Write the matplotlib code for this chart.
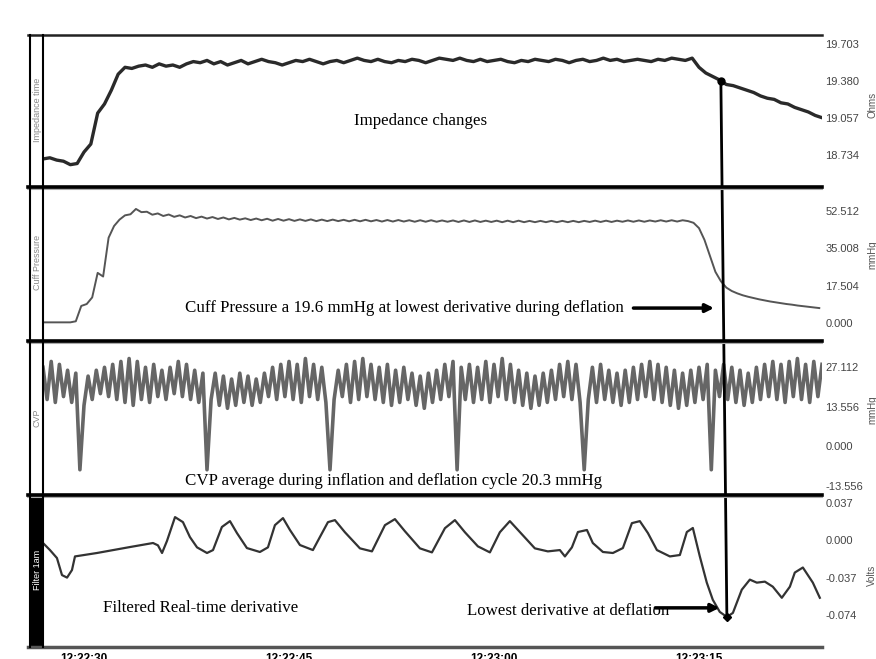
import numpy as np
import matplotlib.pyplot as plt
from matplotlib.lines import Line2D
from matplotlib.patches import Rectangle, ConnectionPatch

# time in seconds from 12:22:27
tick_t = [3, 18, 33, 48]
tick_labels = ['12:22:30', '12:22:45', '12:23:00', '12:23:15']

# impedance (Ohms), 0.5 s samples
imp = [18.70, 18.71, 18.69, 18.68, 18.65, 18.66, 18.76, 18.83, 19.10, 19.18,
       19.30, 19.44, 19.50, 19.49, 19.51, 19.52, 19.50, 19.53, 19.51, 19.52,
       19.50, 19.53, 19.55, 19.54, 19.56, 19.53, 19.55, 19.52, 19.54, 19.56,
       19.53, 19.55, 19.57, 19.55, 19.54, 19.52, 19.54, 19.56, 19.55, 19.57,
       19.55, 19.53, 19.55, 19.56, 19.54, 19.56, 19.58, 19.56, 19.55, 19.57,
       19.55, 19.54, 19.56, 19.55, 19.57, 19.56, 19.54, 19.56, 19.58, 19.57,
       19.56, 19.58, 19.56, 19.55, 19.57, 19.55, 19.56, 19.57, 19.55, 19.54,
       19.56, 19.55, 19.57, 19.56, 19.55, 19.57, 19.56, 19.54, 19.56, 19.57,
       19.55, 19.56, 19.58, 19.56, 19.57, 19.55, 19.56, 19.57, 19.56, 19.55,
       19.57, 19.56, 19.58, 19.57, 19.56, 19.58, 19.50, 19.45, 19.42, 19.39,
       19.35, 19.34, 19.32, 19.30, 19.28, 19.25, 19.23, 19.22, 19.19, 19.18,
       19.15, 19.13, 19.11, 19.08, 19.06]
t_imp = np.arange(len(imp)) * 0.5

# cuff pressure (mmHg), 0.4 s samples
cuff = [0.3, 0.3, 0.3, 0.3, 0.3, 0.3, 0.8, 8.0, 8.9, 12.0,
        23.5, 21.8, 40.0, 45.5, 48.5, 50.5, 51.0, 53.5, 52.0, 52.2,
        50.8, 51.4, 50.2, 50.9, 49.8, 50.5, 49.5, 50.2, 49.2, 49.9,
        49.0, 49.7, 48.8, 49.5, 48.6, 49.3, 48.5, 49.1, 48.3, 49.0,
        48.2, 48.9, 48.0, 48.8, 48.0, 48.7, 47.9, 48.6, 47.9, 48.6,
        47.8, 48.5, 47.8, 48.5, 47.8, 48.4, 47.7, 48.4, 47.7, 48.4,
        47.7, 48.3, 47.6, 48.3, 47.6, 48.3, 47.6, 48.2, 47.5, 48.2,
        47.5, 48.2, 47.5, 48.1, 47.5, 48.1, 47.4, 48.1, 47.4, 48.1,
        47.4, 48.0, 47.4, 48.0, 47.3, 48.0, 47.3, 48.0, 47.3, 47.9,
        47.3, 47.9, 47.3, 47.9, 47.3, 47.9, 47.3, 47.9, 47.3, 47.9,
        47.4, 48.0, 47.4, 48.0, 47.4, 48.0, 47.5, 48.1, 47.5, 48.1,
        47.5, 48.1, 47.6, 48.2, 47.6, 48.2, 47.6, 48.2, 47.8, 47.0,
        44.5, 39.0, 31.5, 24.0, 19.6, 16.6, 15.0, 13.9, 13.0, 12.3,
        11.7, 11.1, 10.6, 10.1, 9.7, 9.3, 8.9, 8.6, 8.2, 7.9,
        7.6, 7.3, 7.0]
t_cuff = np.arange(len(cuff)) * 0.4

# central venous pressure (mmHg), 0.3 s samples
cvp = [27, 16, 29, 15, 28, 17, 26, 15, 25, -8,
       14, 24, 16, 26, 18, 27, 17, 28, 16, 29,
       15, 30, 14, 29, 16, 27, 15, 28, 17, 26,
       16, 27, 18, 29, 17, 28, 16, 26, 15, 25,
       -8, 16, 25, 14, 24, 13, 23, 14, 25, 15,
       24, 14, 23, 15, 25, 17, 27, 16, 28, 17,
       29, 16, 28, 15, 30, 17, 28, 16, 27, 15,
       -8, 16, 26, 17, 28, 15, 29, 16, 30, 17,
       28, 16, 27, 15, 28, 14, 26, 15, 27, 16,
       25, 14, 24, 13, 25, 15, 26, 16, 28, 17,
       29, -8, 27, 16, 28, 15, 27, 16, 29, 15,
       28, 17, 30, 16, 28, 15, 26, 14, 25, 13,
       24, 14, 25, 15, 26, 16, 28, 17, 29, 16,
       28, 15, -8, 16, 27, 15, 28, 16, 26, 15,
       25, 14, 26, 15, 27, 16, 28, 17, 29, 16,
       28, 15, 27, 14, 26, 13, 25, 14, 26, 15,
       27, 16, 28, -8, 26, 17, 28, 16, 27, 15,
       26, 14, 25, 15, 27, 16, 28, 17, 29, 16,
       28, 15, 29, 17, 30, 16, 28, 15, 29, 17,
       28]
t_cvp = np.arange(len(cvp)) * 0.3

# filtered derivative (Volts)
t_der = [0, 0.51, 1.02, 1.39, 1.76, 2.12, 2.34, 3.95, 6.36, 8.05,
         8.41, 8.71, 9.07, 9.66, 10.24, 10.75, 11.27, 12.0, 12.44, 13.09,
         13.68, 14.19, 14.92, 15.87, 16.46, 16.97, 17.56, 18.07, 18.8, 19.75,
         20.26, 20.85, 21.36, 22.09, 23.19, 24.07, 25.02, 25.75, 26.48, 27.58,
         28.46, 29.41, 30.14, 30.87, 31.82, 32.7, 33.43, 34.16, 35.04, 35.99,
         36.94, 37.82, 38.19, 38.7, 39.14, 39.8, 40.23, 40.97, 41.7, 42.43,
         43.09, 43.67, 44.26, 44.92, 45.87, 46.6, 47.11, 47.55, 48.06, 48.57,
         49.01, 49.52, 50.04, 50.48, 51.13, 51.72, 52.23, 52.82, 53.4, 54.06,
         54.65, 55.01, 55.6, 56.33, 56.84]
der = [-0.0027, -0.0097, -0.0176, -0.0345, -0.037, -0.0295, -0.016, -0.0126, -0.0067, -0.0027,
       -0.005, -0.0126, -0.0007, 0.023, 0.018, 0.0032, -0.007, -0.0126, -0.0097, 0.0132,
       0.019, 0.0072, -0.0077, -0.0116, -0.007, 0.015, 0.022, 0.0102, -0.0047, -0.0097,
       0.0032, 0.018, 0.020, 0.008, -0.008, -0.011, 0.015, 0.021, 0.009, -0.008,
       -0.012, 0.012, 0.020, 0.008, -0.006, -0.012, 0.008, 0.019, 0.006, -0.008,
       -0.011, -0.0097, -0.016, -0.007, 0.0082, 0.0102, -0.0027, -0.0116, -0.0126, -0.0077,
       0.017, 0.019, 0.0072, -0.0097, -0.016, -0.0146, 0.0082, 0.0122, -0.016, -0.042,
       -0.059, -0.071, -0.076, -0.072, -0.049, -0.039, -0.042, -0.041, -0.046, -0.057,
       -0.046, -0.032, -0.027, -0.042, -0.057]

imp_ticks = [19.703, 19.380, 19.057, 18.734]
cuff_ticks = [52.512, 35.008, 17.504, 0.000]
cvp_ticks = [27.112, 13.556, 0.000, -13.556]
der_ticks = [0.037, 0.000, -0.037, -0.074]

t_mark = 49.6   # lowest derivative during deflation
t_low = 50.04

W, H = 876, 659
fig = plt.figure(figsize=(W / 100, H / 100), dpi=100)

rows = [(35, 187), (187, 341), (341, 495), (495, 647)]
x0, x1 = 43, 822
axs = []
for top, bot in rows:
    ax = fig.add_axes([x0 / W, 1 - bot / H, (x1 - x0) / W, (bot - top) / H])
    ax.set_facecolor('none')
    for s in ax.spines.values():
        s.set_visible(False)
    ax.set_xlim(0, 57)
    ax.set_xticks([])
    ax.yaxis.tick_right()
    ax.tick_params(axis='y', length=0, pad=2.5, labelsize=8, labelcolor='#444')
    axs.append(ax)
ax_imp, ax_cuff, ax_cvp, ax_der = axs

ylims = [(18.455, 19.782), (-8.45, 63.8), (-16.63, 35.99), (-0.1058, 0.0449)]
ticks = [imp_ticks, cuff_ticks, cvp_ticks, der_ticks]
for ax, yl, tk in zip(axs, ylims, ticks):
    ax.set_ylim(*yl)
    ax.set_yticks(tk)
    ax.set_yticklabels(['%.3f' % v for v in tk], family='Liberation Sans')

ax_imp.plot(t_imp, imp, color='#2a2a2a', lw=2.4)
ax_cuff.plot(t_cuff, cuff, color='#555555', lw=1.4)
ax_cvp.plot(t_cvp, cvp, color='#666666', lw=2.6)
ax_der.plot(t_der, der, color='#333333', lw=1.6)

ax_der.set_xticks(tick_t)
ax_der.set_xticklabels(tick_labels, family='Liberation Sans', fontweight='bold')
ax_der.tick_params(axis='x', length=0, pad=4.5, labelsize=8.5)

# marker line joining impedance and lowest derivative
imp_mark = np.interp(t_mark, t_imp, imp)
der_low = min(der)
ax_imp.plot([t_mark], [imp_mark], 'o', color='k', ms=5)
ax_der.plot([t_low], [der_low], 'D', color='k', ms=4)
con = ConnectionPatch(xyA=(t_mark, imp_mark), coordsA=ax_imp.transData,
                      xyB=(t_low, der_low), coordsB=ax_der.transData,
                      color='k', lw=2)
fig.add_artist(con)

# annotations
serif = 'Liberation Serif'
fs = 12.2
ax_imp.text(27.6, 19.03, 'Impedance changes', family=serif, fontsize=fs,
            ha='center', va='center')
ax_cuff.text(10.4, 7.0, 'Cuff Pressure a 19.6 mmHg at lowest derivative during deflation',
             family=serif, fontsize=fs, ha='left', va='center')
ax_cuff.annotate('', xy=(49.3, 7.0), xytext=(43.0, 7.0),
                 arrowprops=dict(arrowstyle='-|>', color='k', lw=2.5, mutation_scale=12))
ax_cvp.text(10.4, -11.8, 'CVP average during inflation and deflation cycle 20.3 mmHg',
            family=serif, fontsize=fs, ha='left', va='center')
ax_der.text(4.4, -0.067, 'Filtered Real-time derivative', family=serif, fontsize=fs,
            ha='left', va='center')
ax_der.text(31.0, -0.070, 'Lowest derivative at deflation', family=serif, fontsize=fs,
            ha='left', va='center')
ax_der.annotate('', xy=(49.7, -0.067), xytext=(44.6, -0.067),
                arrowprops=dict(arrowstyle='-|>', color='k', lw=2.5, mutation_scale=12))

# frame: separators and left label strip
def fx(px):
    return px / W

def fy(py):
    return 1 - py / H

for y in [187, 341, 495]:
    fig.add_artist(Line2D([fx(28), fx(822)], [fy(y + 2), fy(y + 2)], color='#aaaaaa', lw=1.5))
    fig.add_artist(Line2D([fx(28), fx(822)], [fy(y), fy(y)], color='k', lw=2.6))
fig.add_artist(Line2D([fx(28), fx(822)], [fy(35), fy(35)], color='#222222', lw=1.8))
fig.add_artist(Line2D([fx(28), fx(822)], [fy(647), fy(647)], color='#555555', lw=2.5))
fig.add_artist(Line2D([fx(30), fx(30)], [fy(35), fy(647)], color='k', lw=1.5))
fig.add_artist(Line2D([fx(43), fx(43)], [fy(35), fy(647)], color='k', lw=1.5))
fig.add_artist(Rectangle((fx(30), fy(647)), fx(43) - fx(30), fy(495) - fy(647),
                         color='k', lw=0))

side = dict(rotation=90, ha='center', va='center', fontsize=6.5,
            family='Liberation Sans')
fig.text(fx(37), fy(110), 'Impedance time', color='#888888', **side)
fig.text(fx(37), fy(262), 'Cuff Pressure', color='#888888', **side)
fig.text(fx(37), fy(418), 'CVP', color='#888888', **side)
fig.text(fx(37), fy(570), 'Filter 1am', color='white', **side)

units = dict(rotation=90, ha='center', va='center', fontsize=7,
             family='Liberation Sans', color='#555555')
fig.text(fx(872), fy(105), 'Ohms', **units)
fig.text(fx(872), fy(255), 'mmHg', **units)
fig.text(fx(872), fy(410), 'mmHg', **units)
fig.text(fx(872), fy(575), 'Volts', **units)

plt.savefig('out.png', dpi=100)
